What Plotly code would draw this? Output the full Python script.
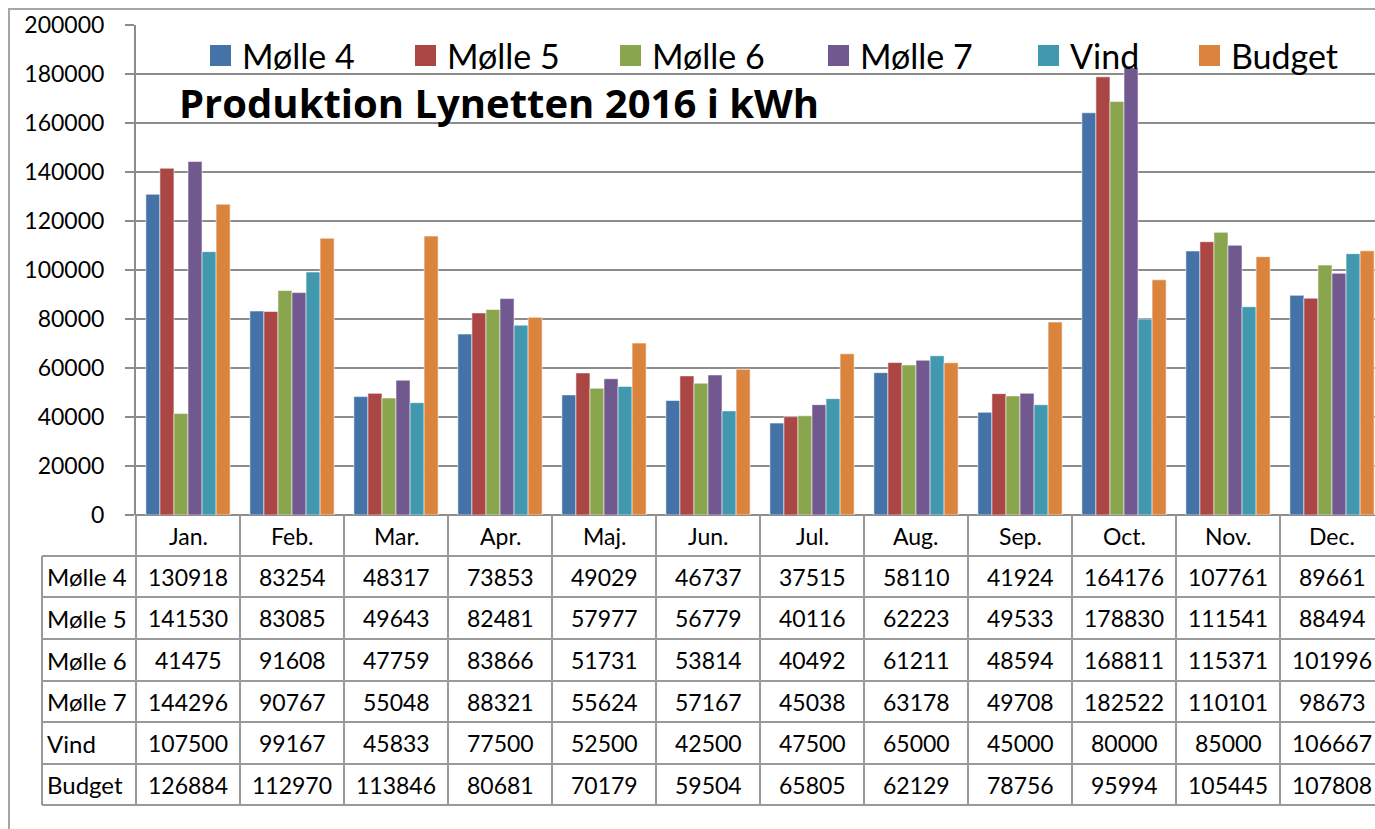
import plotly.graph_objects as go

months = ["Jan.", "Feb.", "Mar.", "Apr.", "Maj.", "Jun.", "Jul.", "Aug.", "Sep.", "Oct.", "Nov.", "Dec."]
series_names = ["Mølle 4", "Mølle 5", "Mølle 6", "Mølle 7", "Vind", "Budget"]
molle4 = [130918, 83254, 48317, 73853, 49029, 46737, 37515, 58110, 41924, 164176, 107761, 89661]
molle5 = [141530, 83085, 49643, 82481, 57977, 56779, 40116, 62223, 49533, 178830, 111541, 88494]
molle6 = [41475, 91608, 47759, 83866, 51731, 53814, 40492, 61211, 48594, 168811, 115371, 101996]
molle7 = [144296, 90767, 55048, 88321, 55624, 57167, 45038, 63178, 49708, 182522, 110101, 98673]
vind = [107500, 99167, 45833, 77500, 52500, 42500, 47500, 65000, 45000, 80000, 85000, 106667]
budget = [126884, 112970, 113846, 80681, 70179, 59504, 65805, 62129, 78756, 95994, 105445, 107808]
series_values = [molle4, molle5, molle6, molle7, vind, budget]
colors = ["#4572A7", "#AA4643", "#89A54E", "#71588F", "#4198AF", "#DB843D"]
title_text = "Produktion Lynetten 2016 i kWh"

W, H = 1375, 829
ML, MR, MT, MB = 136, 0, 25, 314
PW = W - ML - MR
PH = H - MT - MB
XR = [-0.5, 11.5 - 9 / 104]
FONT = "Lato, 'Open Sans', sans-serif"
GRID = "#8c8c8c"
TBL = "#9a9a9a"


def px2x(px):
    return (px - ML) / PW


def py2y(py):
    return (MT + PH - py) / PH


def cat2x(c):
    return (c - XR[0]) / (XR[1] - XR[0])


fig = go.Figure()
idx = list(range(len(months)))
for name, vals, col in zip(series_names, series_values, colors):
    fig.add_trace(go.Bar(
        x=idx, y=vals, name=name, marker_color=col,
        marker_line=dict(color="rgba(255,255,255,0.55)", width=1),
        showlegend=False,
    ))

shapes = []
annotations = []

# outer chart border
shapes.append(dict(type="path", xref="paper", yref="paper",
                   path=f"M {px2x(9)} {py2y(829)} L {px2x(9)} {py2y(9)} L {px2x(1375)} {py2y(9)}",
                   line=dict(color="#a6a6a6", width=2)))

# data table geometry
row_bounds_px = [556, 597, 639, 681, 722, 764, 805]
label_left = -0.5 - 94 / 104
x_right = 1.0

for py in row_bounds_px:
    shapes.append(dict(type="line", xref="paper", yref="paper",
                       x0=cat2x(label_left), x1=x_right, y0=py2y(py), y1=py2y(py),
                       line=dict(color=TBL, width=2)))
shapes.append(dict(type="line", xref="paper", yref="paper",
                   x0=cat2x(label_left), x1=cat2x(label_left),
                   y0=py2y(row_bounds_px[0]), y1=py2y(row_bounds_px[-1]),
                   line=dict(color=TBL, width=2)))
for i in range(len(months)):
    b = i - 0.5
    if b > XR[1]:
        continue
    shapes.append(dict(type="line", xref="paper", yref="paper",
                       x0=cat2x(b), x1=cat2x(b), y0=0, y1=py2y(row_bounds_px[-1]),
                       line=dict(color=TBL, width=2)))

TFS = 23
for i, m in enumerate(months):
    annotations.append(dict(x=i, y=py2y(536), xref="x", yref="paper", text=m, showarrow=False,
                            font=dict(family=FONT, size=TFS, color="black"),
                            xanchor="center", yanchor="middle"))
for r, (name, vals) in enumerate(zip(series_names, series_values)):
    yc = py2y((row_bounds_px[r] + row_bounds_px[r + 1]) / 2)
    annotations.append(dict(x=cat2x(label_left) + 3 / PW, y=yc, xref="paper", yref="paper", text=name,
                            showarrow=False, font=dict(family=FONT, size=TFS + 1, color="black"),
                            xanchor="left", yanchor="middle"))
    for i, v in enumerate(vals):
        annotations.append(dict(x=i, y=yc, xref="x", yref="paper", text=str(v), showarrow=False,
                                font=dict(family=FONT, size=TFS, color="black"),
                                xanchor="center", yanchor="middle"))

# manual legend
legend_px = [210, 415, 620, 828, 1038, 1199]
for name, col, lx in zip(series_names, colors, legend_px):
    shapes.append(dict(type="rect", xref="paper", yref="paper",
                       x0=px2x(lx), x1=px2x(lx + 21), y0=py2y(66), y1=py2y(45),
                       fillcolor=col, line=dict(width=0)))
    annotations.append(dict(x=px2x(lx + 30), y=py2y(56), xref="paper", yref="paper", text=name,
                            showarrow=False, font=dict(family=FONT, size=34, color="black"),
                            xanchor="left", yanchor="middle"))

# title
annotations.append(dict(x=px2x(177), y=py2y(102), xref="paper", yref="paper", text=f"<b>{title_text}</b>",
                        showarrow=False, font=dict(family="'Open Sans', Lato, sans-serif", size=40, color="black"),
                        xanchor="left", yanchor="middle"))

fig.update_layout(
    width=W, height=H,
    margin=dict(l=ML, r=MR, t=MT, b=MB, pad=0),
    paper_bgcolor="white", plot_bgcolor="white",
    barmode="group", bargap=0.19, bargroupgap=0,
    shapes=shapes, annotations=annotations,
    showlegend=False,
    font=dict(family=FONT, color="black"),
)
fig.update_xaxes(range=XR, showticklabels=False, showgrid=False, zeroline=False,
                 showline=False, ticks="")
fig.update_yaxes(range=[0, 200000], dtick=20000, tickformat="d",
                 showgrid=True, gridcolor=GRID, gridwidth=2,
                 showline=True, linecolor=GRID, linewidth=2,
                 ticks="outside", ticklen=9, tickcolor=GRID, tickwidth=2,
                 ticklabelstandoff=16, zeroline=True, zerolinecolor=GRID, zerolinewidth=2,
                 tickfont=dict(family=FONT, size=23, color="black"))

fig.write_html("out.html", config={"displayModeBar": False},
               post_script="document.body.style.margin='0';document.body.style.overflow='hidden';")
